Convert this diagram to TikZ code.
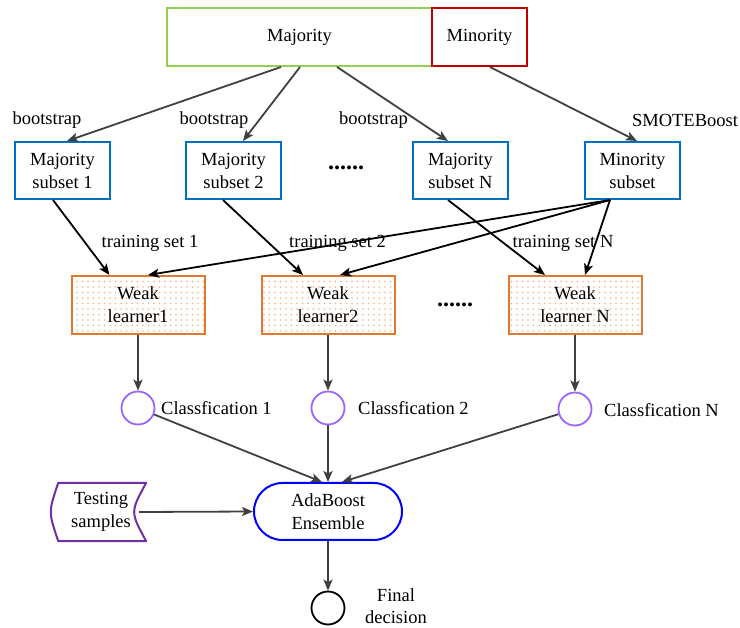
\documentclass[tikz,border=0pt]{standalone}
\usepackage{fontspec}
\setmainfont{Liberation Serif}
\usetikzlibrary{arrows.meta,patterns,calc,shapes.misc}
\pgfdeclarepatternformonly{sparsedots}{\pgfpoint{-1pt}{-1pt}}{\pgfpoint{1pt}{1pt}}{\pgfpoint{5.5pt}{5.5pt}}{\pgfpathcircle{\pgfpointorigin}{0.8pt}\pgfusepath{fill}}
\definecolor{majgreen}{HTML}{92D050}
\definecolor{minred}{HTML}{C00000}
\definecolor{subblue}{HTML}{0070C0}
\definecolor{weakorange}{HTML}{E07830}
\definecolor{dotorange}{HTML}{F6B080}
\definecolor{clspurple}{HTML}{9966FF}
\definecolor{adablue}{HTML}{0000FF}
\definecolor{tspurple}{HTML}{7030A0}
\definecolor{arrowgray}{HTML}{404040}
\begin{document}
\begin{tikzpicture}[x=1pt,y=-1pt,
  font=\fontsize{18.5}{23}\selectfont,
  basebox/.style={draw, line width=2pt, align=center, inner sep=2pt},
  majbox/.style={basebox, draw=majgreen, minimum width=265pt, minimum height=58pt},
  minbox/.style={basebox, draw=minred, minimum width=95pt, minimum height=58pt},
  subbox/.style={basebox, draw=subblue, minimum width=95pt, minimum height=57pt},
  weakbox/.style={basebox, draw=weakorange, pattern=sparsedots, pattern color=dotorange, minimum width=133pt, minimum height=58pt},
  clscircle/.style={circle, draw=clspurple, line width=1.8pt, minimum size=33pt, inner sep=0pt},
  finalcircle/.style={circle, draw=black, line width=1.8pt, minimum size=33pt, inner sep=0pt},
  adabox/.style={rounded rectangle, draw=adablue, line width=2pt, minimum width=152pt, minimum height=57pt, align=center, inner sep=2pt},
  lbl/.style={inner sep=1pt, align=center},
  dotlbl/.style={inner sep=1pt, font=\fontsize{24}{24}\selectfont\bfseries},
  tip/.style={-{Stealth[length=11pt,width=9pt,inset=2.5pt]}},
  garrow/.style={draw=arrowgray, line width=1.8pt, tip},
  barrow/.style={draw=black, line width=1.8pt, tip}
]
\useasboundingbox (0,0) rectangle (740,628);

% top data
\node[majbox] (maj) at (299.5,37) {Majority};
\node[minbox] (min) at (479.5,37) {Minority};

% subsets
\node[subbox] (s1) at (62.5,170.5) {Majority\\subset 1};
\node[subbox] (s2) at (233.5,170.5) {Majority\\subset 2};
\node[subbox] (sN) at (460.5,170.5) {Majority\\subset N};
\node[subbox] (ms) at (632.5,170.5) {Minority\\subset};
\node[dotlbl] (dots1) at (346,168) {......};

% labels
\node[lbl] (b1) at (47,120) {bootstrap};
\node[lbl] (b2) at (214,120) {bootstrap};
\node[lbl] (b3) at (373.5,120) {bootstrap};
\node[lbl] (smb) at (685,120) {SMOTEBoost};
\node[lbl] (t1) at (150,243) {training set 1};
\node[lbl] (t2) at (337.5,243) {training set 2};
\node[lbl] (tN) at (563,243) {training set N};

% weak learners
\node[weakbox] (w1) at (138,305) {Weak\\learner1};
\node[weakbox] (w2) at (328,305) {Weak\\learner2};
\node[weakbox] (wN) at (575,305) {Weak\\learner N};
\node[dotlbl] (dots2) at (455,305) {......};

% classification
\node[clscircle] (c1) at (138,408) {};
\node[clscircle] (c2) at (328,408) {};
\node[clscircle] (cN) at (575,409) {};
\node[lbl, anchor=west] (cl1) at (160,408) {Classfication 1};
\node[lbl, anchor=west] (cl2) at (357,408) {Classfication 2};
\node[lbl, anchor=west] (clN) at (603,410) {Classfication N};

% ensemble
\node[adabox] (ada) at (328,511.5) {AdaBoost\\Ensemble};
\node[lbl, minimum width=90pt, minimum height=58pt] (ts) at (101,512) {Testing\\samples};
\draw[draw=tspurple, line width=2pt, line join=round]
  ([xshift=2.5pt]ts.north west) -- (ts.north east)
  .. controls ([xshift=-16pt]ts.east) .. (ts.south east)
  -- ([xshift=2.5pt]ts.south west)
  .. controls ([xshift=-7.5pt]ts.west) .. ([xshift=2.5pt]ts.north west) -- cycle;

\node[finalcircle] (fd) at (328,608) {};
\node[lbl, font=\fontsize{18.5}{22}\selectfont] (fl) at (396,606.5) {Final\\decision};

% bootstrap arrows
\draw[garrow] ([xshift=-18.5pt]maj.south) -- ([xshift=4.5pt]s1.north);
\draw[garrow] ([xshift=0.5pt]maj.south) -- ([xshift=9.5pt]s2.north);
\draw[garrow] ([xshift=37.5pt]maj.south) -- ([xshift=-12.5pt]sN.north);
\draw[garrow] ([xshift=10.5pt]min.south) -- ([xshift=4.5pt]ms.north);

% training arrows
\draw[barrow] ([xshift=-9.5pt]s1.south) -- ([xshift=-28.5pt]w1.north);
\draw[barrow] ([xshift=-10.5pt]s2.south) -- ([xshift=-25pt]w2.north);
\draw[barrow] ([xshift=-12.5pt]sN.south) -- ([xshift=-30pt]wN.north);
\draw[barrow] ([xshift=-22.5pt]ms.south) -- ([xshift=10pt]w1.north);
\draw[barrow] ([xshift=-22.5pt]ms.south) -- ([xshift=12pt]w2.north);
\draw[barrow] ([xshift=-22.5pt]ms.south) -- ([xshift=10pt]wN.north);

% weak -> classification
\draw[garrow] (w1.south) -- (c1.north);
\draw[garrow] (w2.south) -- (c2.north);
\draw[garrow] (wN.south) -- (cN.north);

% classification -> ensemble
\draw[garrow] (c1) -- ([xshift=-6pt]ada.north);
\draw[garrow] (c2) -- (ada.north);
\draw[garrow] (cN) -- ([xshift=14pt]ada.north);
\draw[garrow] ([xshift=-7pt]ts.east) -- (ada.west);
\draw[garrow] (ada.south) -- (fd.north);
\end{tikzpicture}
\end{document}
